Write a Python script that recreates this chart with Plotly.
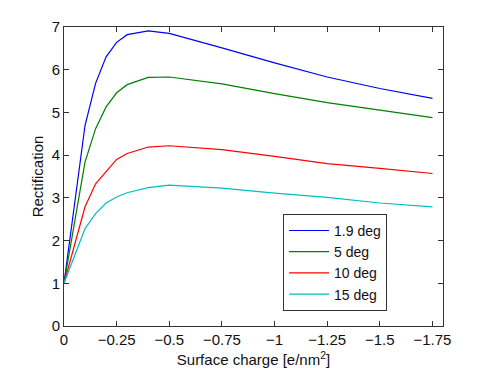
import plotly.graph_objects as go

surface_charge = [0, -0.1, -0.15, -0.2, -0.25, -0.3, -0.4, -0.5, -0.75, -1.0, -1.25, -1.5, -1.75]
rect_1_9deg = [1.0, 4.70, 5.68, 6.30, 6.64, 6.82, 6.91, 6.85, 6.51, 6.16, 5.83, 5.56, 5.33]
rect_5deg = [1.0, 3.84, 4.62, 5.13, 5.46, 5.65, 5.82, 5.83, 5.67, 5.44, 5.23, 5.05, 4.88]
rect_10deg = [1.0, 2.79, 3.33, 3.61, 3.90, 4.04, 4.19, 4.22, 4.13, 3.97, 3.80, 3.69, 3.57]
rect_15deg = [1.0, 2.28, 2.63, 2.88, 3.02, 3.12, 3.24, 3.30, 3.23, 3.11, 3.01, 2.88, 2.79]

series_names = ["1.9 deg", "5 deg", "10 deg", "15 deg"]
series_values = [rect_1_9deg, rect_5deg, rect_10deg, rect_15deg]
series_colors = ["#0000ff", "#008000", "#ff0000", "#00bfbf"]

x_tickvals = [0, -0.25, -0.5, -0.75, -1, -1.25, -1.5, -1.75]
x_ticktext = ["0", "\u22120.25", "\u22120.5", "\u22120.75", "\u22121", "\u22121.25", "\u22121.5", "\u22121.75"]
y_tickvals = [0, 1, 2, 3, 4, 5, 6, 7]

FONT = "Liberation Sans, Arial, Helvetica, sans-serif"

fig = go.Figure()
for name, vals, col in zip(series_names, series_values, series_colors):
    fig.add_trace(go.Scatter(x=surface_charge, y=vals, mode="lines", name=name,
                             line=dict(color=col, width=1.2)))

axis_common = dict(showline=True, linecolor="#333333", linewidth=1, mirror="ticks",
                   ticks="inside", ticklen=5, tickcolor="#333333", tickwidth=1,
                   showgrid=False, zeroline=False, automargin=False,
                   tickfont=dict(family=FONT, size=15, color="#111111"))

fig.update_xaxes(range=[0, -1.8], tickvals=x_tickvals, ticktext=x_ticktext,
                 title=dict(text="Surface charge [e/nm<sup>2</sup>]",
                            font=dict(family=FONT, size=15, color="#111111")),
                 **axis_common)
fig.update_yaxes(range=[0, 7], tickvals=y_tickvals,
                 title=dict(text="Rectification", standoff=4,
                            font=dict(family=FONT, size=15, color="#111111")),
                 **axis_common)

fig.update_layout(
    width=491, height=368,
    margin=dict(l=64, r=48, t=27, b=42),
    plot_bgcolor="white", paper_bgcolor="white",
    font=dict(family=FONT, size=15, color="#111111"),
    legend=dict(x=0.578, y=0.375, xanchor="left", yanchor="top",
                bgcolor="white", bordercolor="#333333", borderwidth=1,
                font=dict(family=FONT, size=14, color="#111111"),
                itemwidth=40, tracegroupgap=0),
)

fig.write_html("out.html", config={"displayModeBar": False},
               post_script="document.body.style.margin='0';")
